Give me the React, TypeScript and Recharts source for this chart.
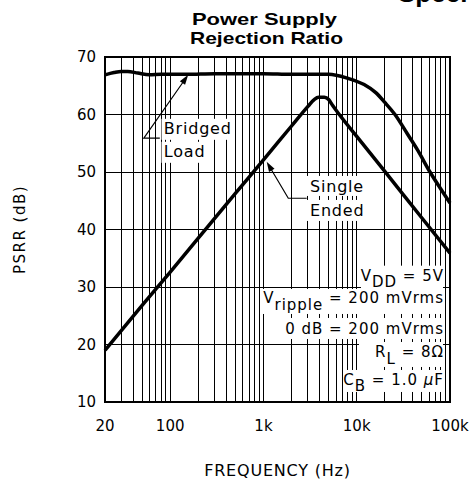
import React from 'react';
import {
  LineChart,
  Line,
  XAxis,
  YAxis,
  CartesianGrid,
  ReferenceDot,
  ReferenceArea,
  Customized,
} from 'recharts';

// ---- data ----
const bridgedFreq = [20, 25, 30, 35, 45, 60, 80, 150, 300, 1000, 2000, 3000, 5000, 8000, 12000, 16000, 20000, 25700, 35000, 45000, 61000, 80000, 100000];
const bridgedDb = [66.9, 67.3, 67.5, 67.5, 67.2, 66.9, 67.0, 67.0, 67.1, 67.1, 67.0, 67.0, 67.0, 66.3, 65.2, 63.8, 62.1, 60.0, 56.6, 53.8, 50.0, 47.0, 44.6];

const singleFreq = [20, 50, 100, 200, 500, 1000, 2000, 3000, 3500, 3900, 4500, 5000, 5500, 6500, 10000, 20000, 50000, 100000];
const singleDb = [19.0, 26.8, 32.6, 38.5, 46.3, 52.1, 58.0, 61.4, 62.6, 63.0, 63.0, 62.6, 61.6, 60.0, 56.2, 50.1, 42.0, 35.9];

const gridFreqs = [
  20, 30, 40, 50, 60, 70, 80, 90,
  100, 200, 300, 400, 500, 600, 700, 800, 900,
  1000, 2000, 3000, 4000, 5000, 6000, 7000, 8000, 9000,
  10000, 20000, 30000, 40000, 50000, 60000, 70000, 80000, 90000,
  100000,
];
const majorFreqs = [20, 100, 1000, 10000, 100000];
const majorLabels = ['20', '100', '1k', '10k', '100k'];
const yTicks = [10, 20, 30, 40, 50, 60, 70];

const titleLines = ['Power Supply', 'Rejection Ratio'];
const xLabel = 'FREQUENCY (Hz)';
const yLabel = 'PSRR (dB)';

// annotation anchors (data coordinates)
const bridgedTip = { f: 156, db: 66.9 };
const singleTip = { f: 1083, db: 51.8 };
const paramAnchor = { f: 86200, db: 31.1 };

const bridgedData = bridgedFreq.map((f, i) => ({ f, db: bridgedDb[i] }));
const singleData = singleFreq.map((f, i) => ({ f, db: singleDb[i] }));

const FONT = 'DejaVu Sans';

const fmtX = (v: number) => {
  const i = majorFreqs.indexOf(v);
  return i >= 0 ? majorLabels[i] : '';
};

function arrowHead(tx: number, ty: number, ux: number, uy: number, len = 10, half = 3.2) {
  const bx = tx - ux * len;
  const by = ty - uy * len;
  const px = -uy;
  const py = ux;
  return `${tx},${ty} ${bx + px * half},${by + py * half} ${bx - px * half},${by - py * half}`;
}

const BridgedCallout = (props: any) => {
  const { cx, cy } = props;
  if (cx == null || cy == null) return null;
  const ux = 0.574, uy = -0.819;
  return (
    <g>
      <rect x={cx - 26.7} y={cy + 44} width={71} height={21} fill="#fff" />
      <rect x={cx - 26.7} y={cy + 67} width={44} height={21} fill="#fff" />
      <polyline
        points={`${cx - 28.4},${cy + 63.3} ${cx - 44.4},${cy + 63.3} ${cx - 4},${cy + 5.7}`}
        fill="none"
        stroke="#000"
        strokeWidth={1.2}
      />
      <polygon points={arrowHead(cx, cy, ux, uy)} fill="#000" />
      <text x={cx - 24.4} y={cy + 59} fontFamily={FONT} fontSize={16} letterSpacing={0.8} fill="#000">Bridged</text>
      <text x={cx - 24.4} y={cy + 82.3} fontFamily={FONT} fontSize={16} letterSpacing={0.8} fill="#000">Load</text>
    </g>
  );
};

const SingleCallout = (props: any) => {
  const { cx, cy } = props;
  if (cx == null || cy == null) return null;
  const ux = -0.508, uy = -0.861;
  return (
    <g>
      <rect x={cx + 40.3} y={cy + 14.3} width={59} height={20} fill="#fff" />
      <rect x={cx + 40.3} y={cy + 38.3} width={55} height={21} fill="#fff" />
      <polyline
        points={`${cx + 40},${cy + 36.6} ${cx + 21.6},${cy + 36.6} ${cx + 2.5},${cy + 4.3}`}
        fill="none"
        stroke="#000"
        strokeWidth={1.2}
      />
      <polygon points={arrowHead(cx, cy, ux, uy)} fill="#000" />
      <text x={cx + 43.3} y={cy + 30} fontFamily={FONT} fontSize={16} letterSpacing={0.8} fill="#000">Single</text>
      <text x={cx + 43.3} y={cy + 54.3} fontFamily={FONT} fontSize={16} letterSpacing={0.8} fill="#000">Ended</text>
    </g>
  );
};

const ParamBlock = (props: any) => {
  const { cx, cy } = props;
  if (cx == null || cy == null) return null;
  const t = { fontFamily: FONT, fontSize: 15, letterSpacing: 1, fill: '#000', textAnchor: 'end' as const, style: { whiteSpace: 'pre' as const } };
  return (
    <g>
      <rect x={cx - 83} y={cy - 15} width={82} height={25} fill="#fff" />
      <rect x={cx - 184} y={cy + 8.3} width={183} height={25} fill="#fff" />
      <rect x={cx - 164} y={cy + 37.3} width={163} height={21} fill="#fff" />
      <rect x={cx - 85} y={cy + 61.3} width={84} height={25} fill="#fff" />
      <rect x={cx - 100} y={cy + 89.3} width={99} height={22} fill="#fff" />
      <text x={cx} y={cy} {...t}>
        <tspan>V</tspan>
        <tspan dy={6.5}>DD</tspan>
        <tspan dy={-6.5}> = 5V</tspan>
      </text>
      <text x={cx} y={cy + 22.6} {...t}>
        <tspan>V</tspan>
        <tspan dy={6.5}>ripple</tspan>
        <tspan dy={-6.5}> = 200 mVrms</tspan>
      </text>
      <text x={cx} y={cy + 53.3} {...t}>0 dB = 200 mVrms</text>
      <text x={cx} y={cy + 76} {...t}>
        <tspan>R</tspan>
        <tspan dy={7.8}>L</tspan>
        <tspan dy={-7.8}> = 8Ω</tspan>
      </text>
      <text x={cx} y={cy + 104.3} {...t}>
        <tspan>C</tspan>
        <tspan dy={6.5}>B</tspan>
        <tspan dy={-6.5}> = 1.0 </tspan>
        <tspan fontStyle="italic">μ</tspan>
        <tspan>F</tspan>
      </text>
    </g>
  );
};

const Title = () => (
  <g>
    <text x={398} y={1.5} fontFamily="Liberation Sans" fontWeight="bold" fontSize={26} fill="#000">Specifications</text>
    <text x={264.5} y={25} textAnchor="middle" fontFamily="Liberation Sans" fontWeight="bold" fontSize={17} fill="#000" textLength={145} lengthAdjust="spacingAndGlyphs">{titleLines[0]}</text>
    <text x={266.5} y={44} textAnchor="middle" fontFamily="Liberation Sans" fontWeight="bold" fontSize={17} fill="#000" textLength={153} lengthAdjust="spacingAndGlyphs">{titleLines[1]}</text>
  </g>
);

export default function App() {
  return (
    <div style={{ position: 'absolute', left: 0, top: 0, width: 469, height: 485, background: '#fff' }}>
      <LineChart width={469} height={485} margin={{ top: 57, right: 19, bottom: 0, left: 0 }}>
        <CartesianGrid stroke="#000" strokeWidth={1} shapeRendering="crispEdges" />
        <XAxis
          type="number"
          dataKey="f"
          scale="log"
          domain={[20, 100000]}
          ticks={gridFreqs}
          interval={0}
          tickFormatter={fmtX}
          tickLine={false}
          axisLine={false}
          tickSize={0}
          tickMargin={18}
          height={83}
          tick={{ fill: '#000', fontSize: 15, fontFamily: FONT }}
          label={{
            value: xLabel,
            position: 'insideBottom',
            offset: 9,
            fill: '#000',
            fontSize: 16,
            fontFamily: FONT,
            letterSpacing: 0.8,
          }}
        />
        <YAxis
          type="number"
          domain={[10, 70]}
          ticks={yTicks}
          interval={0}
          tickLine={false}
          axisLine={false}
          tickSize={0}
          tickMargin={9}
          width={105}
          tick={{ fill: '#000', fontSize: 15, fontFamily: FONT }}
          label={{
            value: yLabel,
            angle: -90,
            position: 'insideLeft',
            offset: 20,
            fill: '#000',
            fontSize: 15,
            fontFamily: FONT,
            letterSpacing: 1.5,
            style: { textAnchor: 'middle' },
          }}
        />
        <ReferenceDot x={bridgedTip.f} y={bridgedTip.db} r={0} shape={BridgedCallout} ifOverflow="visible" />
        <ReferenceDot x={singleTip.f} y={singleTip.db} r={0} shape={SingleCallout} ifOverflow="visible" />
        <ReferenceDot x={paramAnchor.f} y={paramAnchor.db} r={0} shape={ParamBlock} ifOverflow="visible" />
        <Line
          data={bridgedData}
          dataKey="db"
          type="monotone"
          stroke="#000"
          strokeWidth={3.5}
          dot={false}
          activeDot={false}
          isAnimationActive={false}
        />
        <Line
          data={singleData}
          dataKey="db"
          type="monotone"
          stroke="#000"
          strokeWidth={3.5}
          dot={false}
          activeDot={false}
          isAnimationActive={false}
        />
        <ReferenceArea x1={20} x2={100000} y1={10} y2={70} fill="none" stroke="#000" strokeWidth={2} ifOverflow="visible" />
        <Customized component={<Title />} />
      </LineChart>
    </div>
  );
}
